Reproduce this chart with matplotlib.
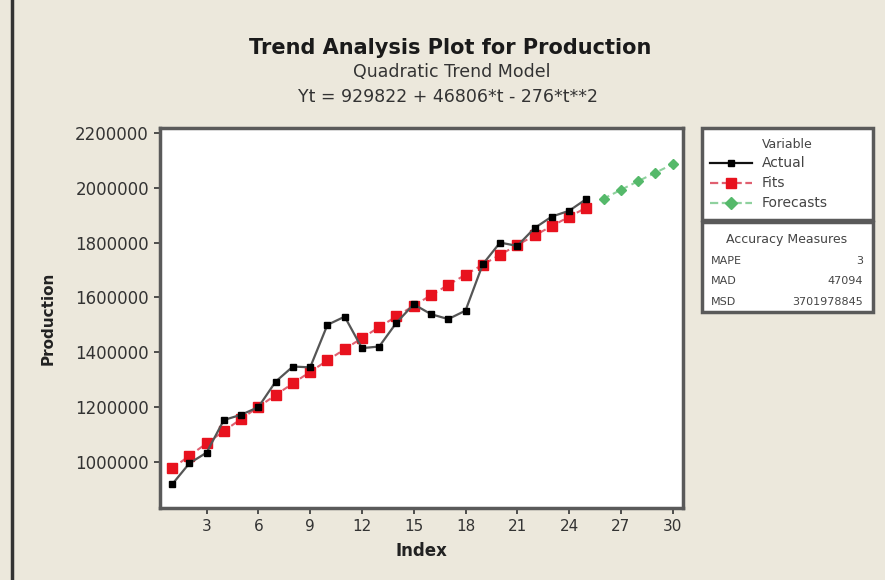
import matplotlib
matplotlib.use("Agg")
import matplotlib.pyplot as plt
from matplotlib.lines import Line2D
from matplotlib.patches import Rectangle

# ---- data ----
index_actual = list(range(1, 26))
actual = [918000, 995000, 1034000, 1153000, 1172000, 1200000, 1293000, 1348000,
          1345000, 1500000, 1530000, 1415000, 1421000, 1508000, 1575000, 1539000,
          1521000, 1552000, 1721000, 1800000, 1788000, 1853000, 1895000, 1916000,
          1959000]
fits = [976352, 1022330, 1067756, 1112630, 1156952, 1200722, 1243940, 1286606,
        1328720, 1370282, 1411292, 1451750, 1491656, 1531010, 1569812, 1608062,
        1645760, 1682906, 1719500, 1755542, 1791032, 1825970, 1860356, 1894190,
        1927472]
index_forecast = [26, 27, 28, 29, 30]
forecast = [1960202, 1992380, 2024006, 2055080, 2085602]
x_ticks = [3, 6, 9, 12, 15, 18, 21, 24, 27, 30]
y_ticks = [1000000, 1200000, 1400000, 1600000, 1800000, 2000000, 2200000]
accuracy_names = ["MAPE", "MAD", "MSD"]
accuracy_values = ["3", "47094", "3701978845"]

BG = "#ECE8DC"
FRAME = "#5a5a5a"

fig = plt.figure(figsize=(8.85, 5.8), dpi=100, facecolor=BG)
ax = fig.add_axes([160/885, 1-508/580, (683-160)/885, (508-128)/580])
ax.set_facecolor("white")

ax.plot(index_actual, fits, color="#e06070", ls=(0, (3, 2)), lw=1.5, zorder=2)
ax.plot(index_actual, fits, ls="none", marker="s", ms=6.5, color="#e8121e", zorder=3)
ax.plot(index_forecast, forecast, color="#8fd19e", ls=(0, (3, 2)), lw=1.5, zorder=2)
ax.plot(index_forecast, forecast, ls="none", marker="D", ms=5.5, color="#55b96a", zorder=3)
ax.plot(index_actual, actual, color="#555555", lw=1.6, marker="s", ms=4,
        mfc="black", mec="black", zorder=4)

ax.set_xlim(0.3, 30.6)
ax.set_ylim(832000, 2218000)
ax.set_xticks(x_ticks)
ax.set_yticks(y_ticks)
ax.set_yticklabels([str(v) for v in y_ticks])
ax.tick_params(axis="both", direction="out", length=4, width=1.2, color="#333333",
               labelsize=11, labelcolor="#333333", pad=4)
ax.tick_params(axis="y", labelsize=12)
for s in ax.spines.values():
    s.set_color(FRAME)
    s.set_linewidth(2.5)

ax.set_xlabel("Index", fontsize=12, fontweight="bold", color="#222222", labelpad=6)
ax.set_ylabel("Production", fontsize=11, fontweight="bold", color="#222222", labelpad=14)

fig.text(450/885, 1-48/580, "Trend Analysis Plot for Production", ha="center", va="center",
         fontsize=15, fontweight="bold", color="#1a1a1a")
fig.text(452/885, 1-72/580, "Quadratic Trend Model", ha="center", va="center",
         fontsize=12.5, color="#333333")
fig.text(448/885, 1-97/580, "Yt = 929822 + 46806*t - 276*t**2", ha="center", va="center",
         fontsize=12.5, color="#333333")

# left figure border
fig.add_artist(Line2D([12/885, 12/885], [0, 1], color="#333333", lw=2.5))

# legend boxes
def px2fig(x, y):
    return x/885, 1-y/580

bx0, bx1 = 702, 873
for (y0, y1) in [(128, 220), (222, 312)]:
    fx, fy = px2fig(bx0, y1)
    fig.add_artist(Rectangle((fx, fy), (bx1-bx0)/885, (y1-y0)/580, transform=fig.transFigure,
                             facecolor="white", edgecolor=FRAME, lw=2.5))

fig.text(*px2fig(787, 144), "Variable", ha="center", va="center", fontsize=9, color="#444444")
items = [("Actual", "#111111", "-", "s", 5, "black", 163),
         ("Fits", "#e06070", "--", "s", 7, "#e8121e", 183),
         ("Forecasts", "#8fd19e", "--", "D", 6, "#55b96a", 203)]
for name, lc, ls, mk, ms, mc, yy in items:
    x0, y = px2fig(710, yy)
    x1, _ = px2fig(752, yy)
    xm, _ = px2fig(731, yy)
    fig.add_artist(Line2D([x0, x1], [y, y], color=lc, ls=ls, lw=1.6))
    fig.add_artist(Line2D([xm], [y], marker=mk, ms=ms, color=mc, ls="none"))
    fig.text(*px2fig(762, yy), name, ha="left", va="center", fontsize=10, color="#444444")

fig.text(*px2fig(787, 240), "Accuracy Measures", ha="center", va="center", fontsize=9, color="#444444")
for i, (n, v) in enumerate(zip(accuracy_names, accuracy_values)):
    yy = 261 + i*20.5
    fig.text(*px2fig(711, yy), n, ha="left", va="center", fontsize=8, color="#444444")
    fig.text(*px2fig(863, yy), v, ha="right", va="center", fontsize=8, color="#444444")

fig.savefig("out.png", dpi=100, facecolor=BG)
